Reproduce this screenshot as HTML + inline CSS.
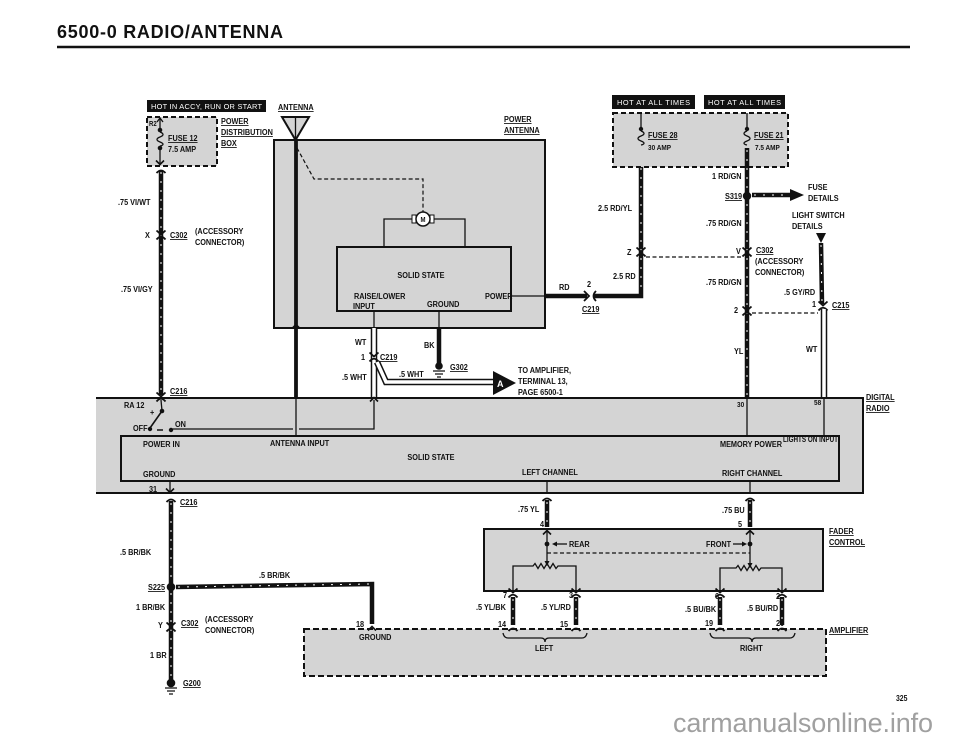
<!DOCTYPE html>
<html><head><meta charset="utf-8"><style>
html,body{margin:0;padding:0;background:#fff}
svg{display:block}
text{font-family:"Liberation Sans",sans-serif;font-weight:bold;font-size:8.5px;fill:#111;transform-box:fill-box;transform-origin:0 0;transform:scaleX(0.86)}
text.m{transform-origin:50% 0}
text.n{transform:none}
.u{text-decoration:underline}
text.wh{fill:#fff;font-weight:normal;font-size:7.4px;transform:none}
.w{stroke:#111;stroke-width:4.5;fill:none}
.ws{stroke:#fff;stroke-width:1;stroke-dasharray:2 7;fill:none}
.t{stroke:#111;stroke-width:1.3;fill:none}
.b{stroke:#111;stroke-width:2;fill:none}
.g{fill:#d4d4d4}
.d{stroke:#111;stroke-width:1.2;stroke-dasharray:4 2.5;fill:none}
.wo{stroke:#111;stroke-width:6.5;fill:none}
.wi{stroke:#fff;stroke-width:3.5;fill:none}
</style></head><body>
<svg width="960" height="746" viewBox="0 0 960 746" xmlns="http://www.w3.org/2000/svg">
<defs>
<g id="cn"><path d="M-4.5,-4.5 L0,-0.5 L4.5,-4.5" stroke="#111" stroke-width="1.8" fill="none"/><path d="M-4.5,4.5 Q0,-1 4.5,4.5" stroke="#111" stroke-width="1.8" fill="none"/></g>
<g id="up"><path d="M-4,3.5 L0,-0.5 L4,3.5" stroke="#111" stroke-width="1.6" fill="none"/></g>
<g id="dn"><path d="M-4,-3.5 L0,0.5 L4,-3.5" stroke="#111" stroke-width="1.6" fill="none"/></g>
<g id="cap"><path d="M-4.5,4 Q0,-1 4.5,4" stroke="#111" stroke-width="1.8" fill="none"/></g>
</defs>

<!-- Title -->
<text class="n" x="57" y="38" style="font-size:18px" textLength="226">6500-0   RADIO/ANTENNA</text>
<line x1="57" y1="47" x2="910" y2="47" stroke="#111" stroke-width="2.5"/>

<!-- ===== TOP LEFT: fuse 12 ===== -->
<rect x="147" y="100" width="119" height="12" fill="#111"/>
<text class="wh" x="151" y="109" textLength="111">HOT IN ACCY, RUN OR START</text>
<rect x="147" y="117" width="70" height="49" class="g"/>
<rect x="147" y="117" width="70" height="49" stroke="#111" stroke-width="2" stroke-dasharray="5 3" fill="none"/>
<text x="149" y="126" style="font-size:7px">R2</text>
<line x1="160" y1="119" x2="160" y2="129" class="t"/>
<path d="M157,122 L160,118 L163,122" class="t"/>
<circle cx="160" cy="130" r="2.3" fill="#111"/>
<path d="M160,132 c4,1.5 4,3.5 0,5 c-4,1.5 -4,3.5 0,5 c4,1.5 4,3 0,4" class="t"/>
<circle cx="160" cy="148" r="2.3" fill="#111"/>
<line x1="160" y1="148" x2="160" y2="164" class="t"/>
<use href="#dn" transform="translate(160,164)"/>
<text class="u" x="168" y="141">FUSE 12</text>
<text x="168" y="152">7.5 AMP</text>
<text class="u" x="221" y="124">POWER</text>
<text class="u" x="221" y="135">DISTRIBUTION</text>
<text class="u" x="221" y="146">BOX</text>

<line x1="161" y1="170" x2="161" y2="395" class="w"/>
<line x1="161" y1="172" x2="161" y2="393" class="ws"/>
<use href="#cap" transform="translate(161,169)"/>
<use href="#cn" transform="translate(161,235)"/>
<text x="118" y="205">.75 VI/WT</text>
<text x="145" y="238">X</text>
<text class="u" x="170" y="238">C302</text>
<text x="195" y="234">(ACCESSORY</text>
<text x="195" y="245">CONNECTOR)</text>
<text x="121" y="292">.75 VI/GY</text>

<!-- ===== POWER ANTENNA ===== -->
<text class="u" x="278" y="110">ANTENNA</text>
<rect x="274" y="140" width="271" height="188" class="g"/>
<rect x="274" y="140" width="271" height="188" class="b"/>
<polygon points="282,117 309,117 295.5,140" fill="#d4d4d4" stroke="#111" stroke-width="2"/>
<line x1="295.5" y1="117" x2="295.5" y2="140" class="t"/>
<text class="u" x="504" y="122">POWER</text>
<text class="u" x="504" y="133">ANTENNA</text>
<line x1="296" y1="140" x2="296" y2="398" stroke="#111" stroke-width="3.8"/>
<use href="#up" transform="translate(296,325)"/>
<path d="M297,148 L314,179 L423,179 L423,212" class="d"/>
<path d="M416,219 L384,219 L384,247 M430,219 L465,219 L465,247" class="t"/>
<rect x="412" y="215" width="4" height="8" fill="#fff" stroke="#111" stroke-width="1"/>
<rect x="430" y="215" width="4" height="8" fill="#fff" stroke="#111" stroke-width="1"/>
<circle cx="423" cy="219" r="7" fill="#fff" stroke="#111" stroke-width="1.5"/>
<text class="m" x="423" y="222" text-anchor="middle" style="font-size:7px">M</text>
<rect x="337" y="247" width="174" height="64" class="g"/>
<rect x="337" y="247" width="174" height="64" class="b"/>
<text class="m" x="421" y="278" text-anchor="middle">SOLID STATE</text>
<text x="354" y="299">RAISE/LOWER</text>
<text x="353" y="309">INPUT</text>
<text x="427" y="307">GROUND</text>
<text x="485" y="299">POWER</text>
<line x1="511" y1="296" x2="545" y2="296" class="t"/>

<!-- RD to fuse 28 -->
<line x1="545" y1="296" x2="587" y2="296" class="w"/>
<path d="M584,291 L589,296 L584,301" stroke="#111" stroke-width="1.8" fill="none"/>
<path d="M596,291 Q591,296 596,301" stroke="#111" stroke-width="1.8" fill="none"/>
<path d="M593,296 L641,296 L641,148" class="w"/>
<line x1="641" y1="150" x2="641" y2="290" class="ws"/>
<text x="559" y="290">RD</text>
<text x="587" y="287">2</text>
<text class="u" x="582" y="312">C219</text>

<!-- WT input wire -->
<line x1="374" y1="311" x2="374" y2="328" class="t"/>
<line x1="374" y1="328" x2="374" y2="398" class="wo"/>
<line x1="374" y1="328" x2="374" y2="398" class="wi"/>
<path d="M377,362 L386,382 L493,382" class="wo"/>
<path d="M377,362 L386,382 L493,382" class="wi"/>
<use href="#cn" transform="translate(374,357)"/>
<text x="355" y="345">WT</text>
<text x="361" y="360">1</text>
<text class="u" x="380" y="360">C219</text>
<text x="342" y="380">.5 WHT</text>
<text x="399" y="377">.5 WHT</text>

<!-- ground G302 -->
<line x1="439" y1="311" x2="439" y2="328" class="t"/>
<line x1="439" y1="328" x2="439" y2="364" stroke="#111" stroke-width="4.5"/>
<circle cx="439" cy="366" r="3.8" fill="#111"/>
<path d="M433,371 L445,371 M435,374 L443,374 M437,377 L441,377" class="t"/>
<text x="424" y="348">BK</text>
<text class="u" x="450" y="370">G302</text>

<!-- A arrow -->
<polygon points="493,371 516,383 493,395" fill="#111"/>
<text class="n" x="497" y="387" style="font-size:9px;fill:#fff">A</text>
<text x="518" y="373">TO AMPLIFIER,</text>
<text x="518" y="384">TERMINAL 13,</text>
<text x="518" y="395">PAGE 6500-1</text>

<!-- ===== TOP RIGHT ===== -->
<rect x="612" y="95" width="83" height="14" fill="#111"/>
<text class="wh" x="617" y="105" textLength="73">HOT AT ALL TIMES</text>
<rect x="704" y="95" width="81" height="14" fill="#111"/>
<text class="wh" x="708" y="105" textLength="73">HOT AT ALL TIMES</text>
<rect x="613" y="113" width="175" height="54" class="g"/>
<rect x="613" y="113" width="175" height="54" stroke="#111" stroke-width="2" stroke-dasharray="5 3" fill="none"/>
<!-- fuse 28 -->
<line x1="641" y1="113" x2="641" y2="129" class="t"/>
<circle cx="641" cy="129" r="2.2" fill="#111"/>
<path d="M641,131 c4,1.5 4,3.5 0,5 c-4,1.5 -4,3.5 0,5 c4,1.5 4,3 0,4" class="t"/>
<text class="u" x="648" y="138">FUSE 28</text>
<text x="648" y="150" style="font-size:7.5px">30 AMP</text>
<!-- fuse 21 -->
<line x1="747" y1="113" x2="747" y2="129" class="t"/>
<circle cx="747" cy="129" r="2.2" fill="#111"/>
<path d="M747,131 c-4,1.5 -4,3.5 0,5 c4,1.5 4,3.5 0,5 c-4,1.5 -4,3 0,4" class="t"/>
<text class="u" x="754" y="138">FUSE 21</text>
<text x="755" y="150" style="font-size:7.5px">7.5 AMP</text>

<line x1="747" y1="148" x2="747" y2="398" class="w"/>
<line x1="747" y1="150" x2="747" y2="396" class="ws"/>
<line x1="747" y1="398" x2="747" y2="436" class="t"/>
<circle cx="747" cy="196" r="4.2" fill="#111"/>
<line x1="752" y1="195" x2="792" y2="195" class="w"/>
<line x1="754" y1="195" x2="790" y2="195" class="ws"/>
<polygon points="790,189 804,195 790,201" fill="#111"/>
<text x="712" y="179">1 RD/GN</text>
<text class="u" x="725" y="199">S319</text>
<text x="808" y="190">FUSE</text>
<text x="808" y="201">DETAILS</text>
<text x="598" y="211">2.5 RD/YL</text>
<text x="792" y="218">LIGHT SWITCH</text>
<text x="792" y="229">DETAILS</text>
<text x="706" y="226">.75 RD/GN</text>
<use href="#cn" transform="translate(641,252)"/>
<use href="#cn" transform="translate(747,252)"/>
<line x1="646" y1="257" x2="742" y2="257" class="d" stroke-width="1"/>
<text x="627" y="255">Z</text>
<text x="736" y="254">V</text>
<text class="u" x="756" y="253">C302</text>
<text x="755" y="264">(ACCESSORY</text>
<text x="755" y="275">CONNECTOR)</text>
<text x="613" y="279">2.5 RD</text>
<text x="706" y="285">.75 RD/GN</text>
<use href="#cn" transform="translate(747,311)"/>
<text x="734" y="313">2</text>
<line x1="752" y1="313" x2="818" y2="313" class="d" stroke-width="1"/>

<polygon points="816,233 826,233 821,243" fill="#111"/>
<line x1="821" y1="243" x2="822" y2="304" class="w"/>
<line x1="821" y1="245" x2="822" y2="302" class="ws"/>
<use href="#cn" transform="translate(823,306)"/>
<line x1="824" y1="309" x2="824" y2="398" class="wo"/>
<line x1="824" y1="309" x2="824" y2="398" class="wi"/>
<line x1="824" y1="398" x2="824" y2="436" class="t"/>
<text x="784" y="295">.5 GY/RD</text>
<text x="812" y="307">1</text>
<text class="u" x="832" y="308">C215</text>
<text x="734" y="354">YL</text>
<text x="806" y="352">WT</text>

<!-- ===== DIGITAL RADIO ===== -->
<rect x="96" y="398" width="767" height="95" class="g"/>
<path d="M96,398 L863,398 L863,493 L96,493" class="b"/>
<rect x="121" y="436" width="718" height="45" class="g"/>
<rect x="121" y="436" width="718" height="45" class="b"/>
<line x1="296" y1="398" x2="296" y2="436" class="t"/>
<line x1="747" y1="398" x2="747" y2="436" class="t"/>
<line x1="824" y1="398" x2="824" y2="436" class="t"/>
<use href="#up" transform="translate(374,398)"/>
<use href="#cn" transform="translate(161,397)"/>
<text class="u" x="170" y="394">C216</text>
<text class="u" x="866" y="400">DIGITAL</text>
<text class="u" x="866" y="411">RADIO</text>
<text x="737" y="407" style="font-size:7.5px">30</text>
<text x="814" y="405" style="font-size:7.5px">58</text>
<!-- switch -->
<line x1="161" y1="400" x2="162" y2="411" class="t"/>
<circle cx="162" cy="411" r="2.3" fill="#111"/>
<line x1="162" y1="411" x2="150" y2="428" stroke="#111" stroke-width="1.6"/>
<circle cx="150" cy="429" r="2.2" fill="#111"/>
<line x1="157" y1="430" x2="163" y2="430" stroke="#111" stroke-width="1.5"/>
<circle cx="171" cy="430" r="2.2" fill="#111"/>
<path d="M171,429 L293,429 M299,429 L374,429 L374,400" class="t"/>
<text x="124" y="408">RA 12</text>
<text x="150" y="415">+</text>
<text x="133" y="431">OFF</text>
<text x="175" y="427">ON</text>
<text x="143" y="447">POWER IN</text>
<text x="270" y="446">ANTENNA INPUT</text>
<text class="m" x="431" y="460" text-anchor="middle">SOLID STATE</text>
<text x="143" y="477">GROUND</text>
<text x="522" y="475">LEFT CHANNEL</text>
<text x="720" y="447">MEMORY POWER</text>
<text class="n" x="783" y="442" textLength="55" lengthAdjust="spacingAndGlyphs" style="font-size:8px">LIGHTS ON INPUT</text>
<text x="722" y="476">RIGHT CHANNEL</text>
<text x="149" y="492">31</text>
<line x1="170" y1="481" x2="170" y2="492" class="t"/>
<use href="#dn" transform="translate(170,492)"/>
<line x1="547" y1="481" x2="547" y2="493" class="t"/>
<line x1="750" y1="481" x2="750" y2="493" class="t"/>

<!-- ===== BOTTOM LEFT ===== -->
<use href="#cap" transform="translate(171,498)"/>
<line x1="171" y1="501" x2="171" y2="682" class="w"/>
<line x1="171" y1="503" x2="171" y2="680" class="ws"/>
<text class="u" x="180" y="505">C216</text>
<text x="120" y="555">.5 BR/BK</text>
<circle cx="171" cy="587" r="4.3" fill="#111"/>
<path d="M176,587 L372,584 L372,624" class="w"/>
<path d="M178,587 L370,584" class="ws"/>
<text class="u" x="148" y="590">S225</text>
<text x="259" y="578">.5 BR/BK</text>
<text x="136" y="610">1 BR/BK</text>
<use href="#cn" transform="translate(171,627)"/>
<text x="158" y="628">Y</text>
<text class="u" x="181" y="626">C302</text>
<text x="205" y="622">(ACCESSORY</text>
<text x="205" y="633">CONNECTOR)</text>
<text x="150" y="658">1 BR</text>
<circle cx="171" cy="683" r="4.3" fill="#111"/>
<path d="M165,688 L177,688 M167,691 L175,691 M169,694 L173,694" class="t"/>
<text class="u" x="183" y="686">G200</text>

<!-- ===== FADER ===== -->
<use href="#cap" transform="translate(547,497)"/>
<use href="#cap" transform="translate(750,497)"/>
<line x1="547" y1="500" x2="547" y2="527" class="w"/>
<line x1="750" y1="500" x2="750" y2="527" class="w"/>
<line x1="547" y1="502" x2="547" y2="525" class="ws"/>
<line x1="750" y1="502" x2="750" y2="525" class="ws"/>
<text x="518" y="512">.75 YL</text>
<text x="540" y="527">4</text>
<text x="722" y="513">.75 BU</text>
<text x="738" y="527">5</text>
<rect x="484" y="529" width="339" height="62" class="g"/>
<rect x="484" y="529" width="339" height="62" class="b"/>
<use href="#up" transform="translate(547,531)"/>
<use href="#up" transform="translate(750,531)"/>
<text class="u" x="829" y="534">FADER</text>
<text class="u" x="829" y="545">CONTROL</text>
<!-- rear -->
<line x1="547" y1="531" x2="547" y2="561" class="t"/>
<polygon points="544.5,561 549.5,561 547,566" fill="#111"/>
<circle cx="547" cy="544" r="2.4" fill="#111"/>
<line x1="556" y1="544" x2="567" y2="544" class="t"/>
<polygon points="552,544 557,541.5 557,546.5" fill="#111"/>
<text x="569" y="547">REAR</text>
<line x1="547" y1="553" x2="750" y2="553" class="d" stroke-width="1.4"/>
<path d="M513,590 L513,566 L533,566 l2,-2.5 l3,5 l3,-5 l3,5 l3,-5 l3,5 l3,-5 l3,5 l2,-2.5 L576,566 L576,590" class="t"/>
<!-- front -->
<line x1="750" y1="531" x2="750" y2="563" class="t"/>
<polygon points="747.5,563 752.5,563 750,568" fill="#111"/>
<circle cx="750" cy="544" r="2.4" fill="#111"/>
<line x1="733" y1="544" x2="743" y2="544" class="t"/>
<polygon points="747,544 742,541.5 742,546.5" fill="#111"/>
<text x="706" y="547">FRONT</text>
<path d="M720,590 L720,568 L736,568 l2,-2.5 l3,5 l3,-5 l3,5 l3,-5 l3,5 l3,-5 l3,5 l2,-2.5 L782,568 L782,590" class="t"/>
<!-- fader to amp wires -->
<g>
<use href="#cn" transform="translate(513,593)"/>
<use href="#cn" transform="translate(576,593)"/>
<use href="#cn" transform="translate(720,593)"/>
<use href="#cn" transform="translate(782,593)"/>
<line x1="513" y1="597" x2="513" y2="625" class="w"/>
<line x1="576" y1="597" x2="576" y2="625" class="w"/>
<line x1="720" y1="597" x2="720" y2="625" class="w"/>
<line x1="782" y1="597" x2="782" y2="625" class="w"/>
<line x1="513" y1="599" x2="513" y2="623" class="ws"/>
<line x1="576" y1="599" x2="576" y2="623" class="ws"/>
<line x1="720" y1="599" x2="720" y2="623" class="ws"/>
<line x1="782" y1="599" x2="782" y2="623" class="ws"/>
</g>
<text x="503" y="598">7</text>
<text x="569" y="598">3</text>
<text x="715" y="599">6</text>
<text x="776" y="599">2</text>
<text x="476" y="610">.5 YL/BK</text>
<text x="541" y="610">.5 YL/RD</text>
<text x="685" y="612">.5 BU/BK</text>
<text x="747" y="611">.5 BU/RD</text>
<text x="498" y="627">14</text>
<text x="560" y="627">15</text>
<text x="705" y="626">19</text>
<text x="776" y="626">20</text>

<!-- ===== AMPLIFIER ===== -->
<rect x="304" y="629" width="522" height="47" class="g"/>
<rect x="304" y="629" width="522" height="47" stroke="#111" stroke-width="2" stroke-dasharray="6 3" fill="none"/>
<use href="#cap" transform="translate(513,627)"/>
<use href="#cap" transform="translate(576,627)"/>
<use href="#cap" transform="translate(720,627)"/>
<use href="#cap" transform="translate(782,627)"/>
<use href="#up" transform="translate(372,627)"/>
<text x="356" y="627">18</text>
<text x="359" y="640">GROUND</text>
<path d="M503,633 Q504,638 508,638 L541,638 Q545,638 545,642 Q545,638 549,638 L582,638 Q586,638 587,633" class="t"/>
<text x="535" y="651">LEFT</text>
<path d="M710,633 Q711,638 715,638 L748,638 Q752,638 752,642 Q752,638 756,638 L790,638 Q794,638 795,633" class="t"/>
<text x="740" y="651">RIGHT</text>
<text class="u" x="829" y="633">AMPLIFIER</text>

<!-- page and watermark -->
<text x="896" y="701" style="font-size:8px">325</text>
<text class="n" x="673" y="732" textLength="260" style="font-size:27px;font-weight:normal;fill:#a0a0a0">carmanualsonline.info</text>
</svg>
</body></html>
